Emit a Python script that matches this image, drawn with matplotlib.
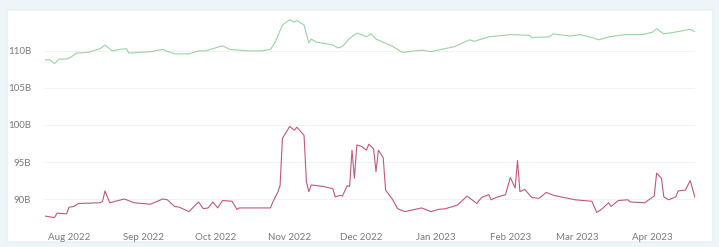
import matplotlib
matplotlib.use("Agg")
import matplotlib.pyplot as plt
import matplotlib.dates as mdates
from matplotlib.patches import FancyBboxPatch
import pandas as pd

# upper series (billions)
green_dates = [
    "2022-07-22", "2022-07-24", "2022-07-26", "2022-07-28", "2022-07-31",
    "2022-08-02", "2022-08-04", "2022-08-09", "2022-08-13", "2022-08-14",
    "2022-08-16", "2022-08-19", "2022-08-22", "2022-08-25", "2022-08-26",
    "2022-08-30", "2022-09-04", "2022-09-09", "2022-09-14", "2022-09-20",
    "2022-09-24", "2022-09-27", "2022-09-30", "2022-10-04", "2022-10-07",
    "2022-10-15", "2022-10-20", "2022-10-24", "2022-10-26", "2022-10-29",
    "2022-11-01", "2022-11-03", "2022-11-04", "2022-11-07", "2022-11-09",
    "2022-11-10", "2022-11-12", "2022-11-19", "2022-11-21", "2022-11-23",
    "2022-11-26", "2022-11-29", "2022-12-01", "2022-12-03", "2022-12-05",
    "2022-12-07", "2022-12-14", "2022-12-18", "2022-12-26", "2022-12-30",
    "2023-01-09", "2023-01-15", "2023-01-17", "2023-01-23", "2023-02-01",
    "2023-02-09", "2023-02-10", "2023-02-17", "2023-02-19", "2023-02-26",
    "2023-03-02", "2023-03-06", "2023-03-10", "2023-03-14", "2023-03-21",
    "2023-03-28", "2023-04-01", "2023-04-03", "2023-04-06", "2023-04-10",
    "2023-04-15", "2023-04-17", "2023-04-19",
]
green_values = [
    108.8, 108.8, 108.3, 108.9, 108.9,
    109.2, 109.7, 109.8, 110.2, 110.3,
    110.8, 110.0, 110.2, 110.3, 109.7,
    109.8, 109.9, 110.2, 109.6, 109.6,
    110.0, 110.0, 110.3, 110.7, 110.2,
    110.0, 110.0, 110.2, 111.2, 113.5,
    114.2, 113.9, 114.1, 113.5, 111.1,
    111.6, 111.2, 110.8, 110.4, 110.6,
    111.7, 112.4, 112.2, 111.9, 112.3,
    111.6, 110.6, 109.8, 110.1, 109.9,
    110.6, 111.5, 111.3, 111.9, 112.2,
    112.1, 111.8, 111.9, 112.3, 112.0,
    112.2, 111.9, 111.5, 111.9, 112.2,
    112.2, 112.5, 113.0, 112.3, 112.5,
    112.8, 112.9, 112.6,
]

# lower series (billions)
red_dates = [
    "2022-07-22", "2022-07-26", "2022-07-27", "2022-07-31", "2022-08-01",
    "2022-08-03", "2022-08-05", "2022-08-14", "2022-08-15", "2022-08-16",
    "2022-08-18", "2022-08-24", "2022-08-25", "2022-08-28", "2022-09-04",
    "2022-09-09", "2022-09-11", "2022-09-14", "2022-09-16", "2022-09-20",
    "2022-09-24", "2022-09-26", "2022-09-28", "2022-09-30", "2022-10-02",
    "2022-10-04", "2022-10-08", "2022-10-10", "2022-10-11", "2022-10-23",
    "2022-10-24", "2022-10-25", "2022-10-27", "2022-10-28", "2022-10-29",
    "2022-11-01", "2022-11-03", "2022-11-04", "2022-11-07", "2022-11-08",
    "2022-11-09", "2022-11-10", "2022-11-15", "2022-11-19", "2022-11-20",
    "2022-11-22", "2022-11-23", "2022-11-25", "2022-11-26", "2022-11-27",
    "2022-11-28", "2022-11-29", "2022-12-01", "2022-12-03", "2022-12-04",
    "2022-12-06", "2022-12-07", "2022-12-08", "2022-12-10", "2022-12-11",
    "2022-12-14", "2022-12-16", "2022-12-19", "2022-12-26", "2022-12-30",
    "2023-01-02", "2023-01-05", "2023-01-10", "2023-01-14", "2023-01-18",
    "2023-01-20", "2023-01-23", "2023-01-24", "2023-01-26", "2023-01-30",
    "2023-02-01", "2023-02-03", "2023-02-04", "2023-02-05", "2023-02-07",
    "2023-02-10", "2023-02-13", "2023-02-16", "2023-02-19", "2023-02-28",
    "2023-03-07", "2023-03-09", "2023-03-11", "2023-03-14", "2023-03-15",
    "2023-03-18", "2023-03-22", "2023-03-23", "2023-03-29", "2023-04-02",
    "2023-04-03", "2023-04-05", "2023-04-06", "2023-04-08", "2023-04-11",
    "2023-04-12", "2023-04-15", "2023-04-17", "2023-04-19",
]
red_values = [
    87.7, 87.5, 88.1, 88.0, 88.9,
    89.0, 89.4, 89.5, 89.7, 91.1,
    89.5, 90.0, 89.9, 89.5, 89.3,
    90.0, 89.9, 89.0, 88.9, 88.3,
    89.6, 88.7, 88.8, 89.6, 88.8,
    89.8, 89.7, 88.6, 88.8, 88.8,
    88.8, 89.6, 90.9, 91.8, 98.2,
    99.8, 99.3, 99.7, 98.6, 92.3,
    91.0, 91.9, 91.7, 91.4, 90.3,
    90.5, 90.4, 91.8, 91.7, 96.6,
    92.8, 97.3, 97.1, 96.6, 97.4,
    96.8, 93.7, 96.6, 95.6, 91.2,
    89.9, 88.7, 88.3, 88.8, 88.3,
    88.6, 88.7, 89.2, 90.4, 89.4,
    90.2, 90.6, 89.9, 90.2, 90.6,
    92.9, 91.5, 95.2, 91.0, 91.3,
    90.2, 90.1, 90.9, 90.5, 89.9,
    89.7, 88.2, 88.6, 89.5, 89.0,
    89.8, 89.9, 89.6, 89.5, 90.4,
    93.5, 92.8, 90.3, 89.9, 90.3,
    91.1, 91.2, 92.5, 90.2,
]

y_ticks = [90, 95, 100, 105, 110]
y_labels = ["90B", "95B", "100B", "105B", "110B"]

W, H = 719, 247
fig = plt.figure(figsize=(W / 100, H / 100), dpi=100)
fig.patch.set_facecolor("#eef5f8")

# white card behind the chart
card = FancyBboxPatch((7 / W, 5 / H), 706 / W, 232 / H,
                      boxstyle="round,pad=0,rounding_size=0.004",
                      transform=fig.transFigure, facecolor="white",
                      edgecolor="#e3edf2", linewidth=0.8, zorder=-5)
fig.patches.append(card)

ax = fig.add_axes([45 / W, 1 - 220 / H, 650 / W, 205 / H])
ax.set_zorder(2)
ax.set_facecolor("none")

gd = pd.to_datetime(green_dates)
rd = pd.to_datetime(red_dates)
ax.plot(gd, green_values, color="#9ad3a2", linewidth=0.8)
ax.plot(rd, red_values, color="#c4577a", linewidth=0.8)

ax.set_xlim(pd.Timestamp("2022-07-22"), pd.Timestamp("2023-04-19"))
ax.set_ylim(87.17, 114.85)

ax.set_yticks(y_ticks)
ax.set_yticklabels(y_labels)
ax.xaxis.set_major_locator(mdates.MonthLocator())
ax.xaxis.set_major_formatter(mdates.DateFormatter("%b %Y"))

ax.grid(axis="y", color="#f2f2f2", linewidth=0.7)
ax.set_axisbelow(True)
for s in ax.spines.values():
    s.set_visible(False)
ax.tick_params(length=0, labelsize=7, colors="#7a7a7a")
ax.tick_params(axis="x", pad=9)
ax.tick_params(axis="y", pad=10)
for lbl in ax.get_xticklabels() + ax.get_yticklabels():
    lbl.set_fontfamily("Lato")

fig.savefig("out.png", dpi=100, facecolor=fig.get_facecolor())
